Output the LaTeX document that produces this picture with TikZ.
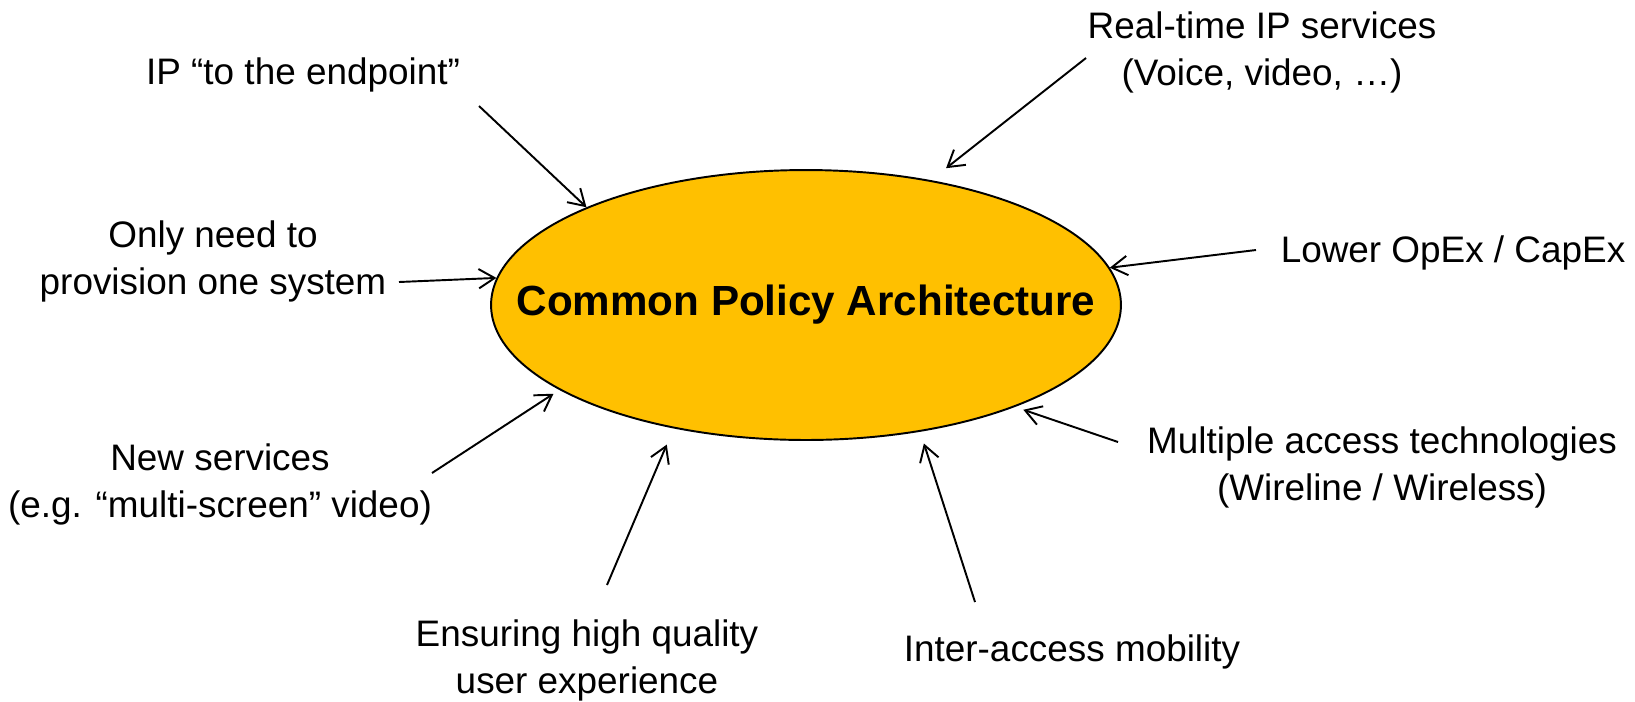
\documentclass[tikz,border=0pt]{standalone}
\usepackage{fontspec}
\setmainfont{Liberation Sans}
\usetikzlibrary{shapes.geometric, arrows.meta, positioning}
\definecolor{policyorange}{HTML}{FFC000}
\tikzset{core/.style={draw, ellipse, fill=policyorange, line width=1.1pt, minimum width=12.6cm, minimum height=5.4cm, inner sep=0pt}}
\tikzset{title/.style={font=\fontsize{24}{29}\selectfont\bfseries, align=center}}
\tikzset{driver/.style={font=\fontsize{21}{26.7}\selectfont, align=center, inner sep=0pt}}
\tikzset{push/.style={-{Straight Barb[length=9pt, width=11pt]}, line width=1.1pt}}

\begin{document}
\begin{tikzpicture}[x=0.02cm, y=-0.02cm]
\useasboundingbox (0,0) rectangle (1635,701);
\node[core] (cpa) at (806,305) {};
\node[title] (cpatext) at (cpa.center) {Common Policy Architecture};

\node[driver] (endpoint) at (303,75) {IP “to the endpoint”};
\node[driver] (realtime) at (1262,52) {Real-time IP services\\(Voice, video, …)};
\node[driver] (provision) at (213,261) {Only need to\\provision one system};
\node[driver] (opex) at (1453,253) {Lower OpEx / CapEx};
\node[driver] (newservices) at (220,484) {New services\\(e.g. “multi-screen” video)};
\node[driver] (multiaccess) at (1382,467) {Multiple access technologies\\(Wireline / Wireless)};
\node[driver] (quality) at (587,660) {Ensuring high quality\\user experience};
\node[driver] (mobility) at (1072,652) {Inter-access mobility};

\coordinate (endpointtail) at (479,106);
\coordinate (realtimetail) at (1086,58);
\coordinate (provisiontail) at (399,282);
\coordinate (opextail) at (1256,250);
\coordinate (newservicestail) at (432,473);
\coordinate (multiaccesstail) at (1118,442);
\coordinate (qualitytail) at (607,585);
\coordinate (mobilitytail) at (975,602);

\draw[push] (endpointtail) -- (cpa.156.4);
\draw[push, shorten >=11pt] (realtimetail) -- (cpa.45.9);
\draw[push] (provisiontail) -- (cpa.175.8);
\draw[push] (opextail) -- (cpa.7.3);
\draw[push, shorten >=4pt] (newservicestail) -- (cpa.199.5);
\draw[push, shorten >=5pt] (multiaccesstail) -- (cpa.334);
\draw[push, shorten >=10pt] (qualitytail) -- (cpa.223.2);
\draw[push, shorten >=7pt] (mobilitytail) -- (cpa.312.6);
\end{tikzpicture}
\end{document}
